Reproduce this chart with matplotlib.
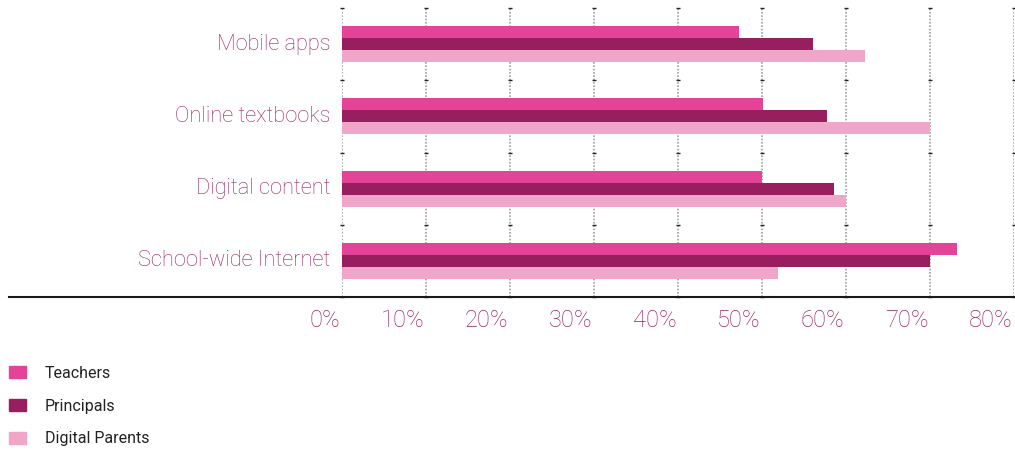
import matplotlib.pyplot as plt
from matplotlib.lines import Line2D
from matplotlib.patches import Rectangle

categories = ["Mobile apps", "Online textbooks", "Digital content", "School-wide Internet"]
series = ["Teachers", "Principals", "Digital Parents"]
teachers = [47.3, 50.1, 50.0, 73.2]
principals = [56.1, 57.7, 58.6, 70.0]
parents = [62.3, 70.0, 60.0, 51.9]
ticks = [0, 10, 20, 30, 40, 50, 60, 70, 80]
tick_labels = ["0%", "10%", "20%", "30%", "40%", "50%", "60%", "70%", "80%"]

colors = ["#e44497", "#971e5f", "#f0a6c8"]
label_color = "#9a2463"
font = ["Roboto", "DejaVu Sans"]

W, H = 1015, 451
fig = plt.figure(figsize=(W / 100, H / 100), dpi=100)
ax = fig.add_axes([342 / W, 1 - 297 / H, (1014 - 342) / W, (297 - 8) / H])

bar_h = 1 / 6
for i, vals in enumerate([teachers, principals, parents]):
    ys = [k + (i - 1) * bar_h for k in range(len(categories))]
    ax.barh(ys, vals, height=bar_h, color=colors[i], zorder=2)

ax.set_ylim(len(categories) - 0.5, -0.5)
ax.set_xlim(0, 80)
for t in ticks:
    ax.axvline(t, color="#a0a0a0", linestyle=(0, (1, 1)), linewidth=1.2, zorder=1)
    # little dark notches at the band boundaries
    ax.plot([t] * 5, [-0.5, 0.5, 1.5, 2.5, 3.5], linestyle="none", marker="_",
            markersize=3, color="#222222", zorder=1.5, clip_on=False)
for s in ax.spines.values():
    s.set_visible(False)
ax.set_xticks([])
ax.set_yticks([])

for k, c in enumerate(categories):
    ax.text(-0.017, 1 - (k + 0.5) / len(categories), c, transform=ax.transAxes,
            ha="right", va="center", fontsize=15.7, color=label_color,
            family=font, fontweight="light")
for t, lab in zip(ticks, tick_labels):
    ax.text(t - 0.15, 3.66, lab, ha="right", va="top", fontsize=17,
            color=label_color, family=font, fontweight="light")

# baseline running under the labels too
fig.add_artist(Line2D([9 / W, 1014 / W], [1 - 297 / H] * 2, color="#1a1a1a",
                      linewidth=1.5))

for i, name in enumerate(series):
    yc = 372 + i * 33
    fig.add_artist(Rectangle((9 / W, 1 - (yc + 6) / H), 17 / W, 12 / H,
                             color=colors[i], transform=fig.transFigure))
    fig.text(45 / W, 1 - (yc + 1) / H, name, ha="left", va="center", fontsize=11.5,
             color="#222222", family=font)

fig.savefig("out.png", dpi=100)
